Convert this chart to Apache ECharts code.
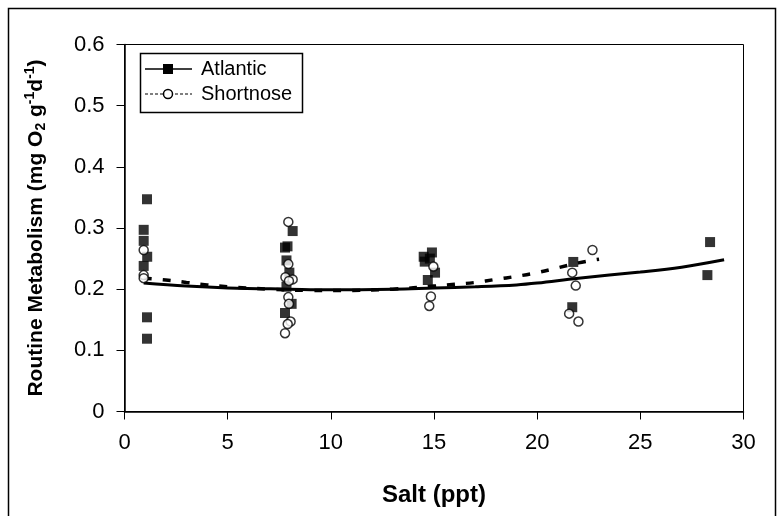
<!DOCTYPE html>
<html>
<head>
<meta charset="utf-8">
<script src="https://cdn.jsdelivr.net/npm/echarts@6/dist/echarts.min.js"></script>
<style>
  html, body { margin: 0; padding: 0; background: #fff; }
  #chart { width: 780px; height: 516px; }
</style>
</head>
<body>
<div id="chart"></div>
<script>
// Measured routine metabolism of individual fish at each salinity
const atlanticSalt = [1.09, 0.93, 0.93, 1.10, 0.93, 1.09, 1.09,
  8.15, 7.90, 7.78, 7.85, 7.99, 7.85, 8.10, 7.78,
  14.90, 14.50, 14.55, 14.80, 15.05, 14.70,
  21.75, 21.70, 28.38, 28.25];
const atlanticRate = [0.347, 0.297, 0.279, 0.253, 0.238, 0.154, 0.119,
  0.295, 0.270, 0.268, 0.247, 0.227, 0.204, 0.176, 0.161,
  0.260, 0.253, 0.245, 0.250, 0.227, 0.215,
  0.2445, 0.1705, 0.277, 0.223];

const shortnoseSalt = [0.93, 0.93, 0.93,
  7.94, 7.94, 7.80, 8.15, 7.97, 7.94, 7.97, 8.05, 7.91, 7.78,
  14.97, 14.85, 14.77,
  21.70, 21.87, 21.55, 22.00, 22.68];
const shortnoseRate = [0.264, 0.223, 0.218,
  0.310, 0.241, 0.2195, 0.216, 0.2135, 0.187, 0.176, 0.147, 0.143, 0.128,
  0.237, 0.188, 0.1726,
  0.227, 0.2058, 0.160, 0.147, 0.264];

// Fitted response curves
const atlanticFitSalt = [0.93, 3, 5, 8, 10, 13, 15, 17, 19, 20, 22, 25, 27, 29.06];
const atlanticFitRate = [0.210, 0.205, 0.202, 0.200, 0.199, 0.200, 0.202, 0.204, 0.207, 0.210, 0.218, 0.228, 0.236, 0.248];
const shortnoseFitSalt = [0.93, 2, 3, 4, 5, 7, 9, 11, 13, 15, 16, 17, 18, 19, 20, 21, 22, 23];
const shortnoseFitRate = [0.218, 0.215, 0.211, 0.207, 0.204, 0.200, 0.198, 0.198, 0.200, 0.205, 0.208, 0.211, 0.216, 0.221, 0.227, 0.235, 0.243, 0.249];

const xTicks = { min: 0, max: 30, interval: 5 };
const yTicks = { min: 0, max: 0.6, interval: 0.1 };

const pairs = (xs, ys) => xs.map((x, i) => [x, ys[i]]);
const FONT = '"Liberation Sans", Arial, sans-serif';

const chart = echarts.init(document.getElementById('chart'), null, { renderer: 'canvas' });

chart.setOption({
  backgroundColor: '#fff',
  animation: false,
  grid: {
    left: 124.5, right: 36.5, top: 44.5, bottom: 104.5,
    show: true, borderColor: '#000', borderWidth: 1, backgroundColor: 'transparent'
  },
  xAxis: {
    type: 'value',
    min: xTicks.min, max: xTicks.max, interval: xTicks.interval,
    name: 'Salt (ppt)',
    nameLocation: 'middle',
    nameGap: 72,
    nameTextStyle: { fontFamily: FONT, fontSize: 24, fontWeight: 'bold', color: '#000' },
    axisLine: { show: true, onZero: false, lineStyle: { color: '#000', width: 1.5 } },
    axisTick: { show: true, inside: false, length: 8, lineStyle: { color: '#000', width: 1 } },
    axisLabel: { fontFamily: FONT, fontSize: 22, color: '#000', margin: 20 },
    splitLine: { show: false }
  },
  yAxis: {
    type: 'value',
    min: yTicks.min, max: yTicks.max, interval: yTicks.interval,
    name: 'Routine Metabolism (mg O{sub|2} g{sup|-1}d{sup|-1})',
    nameLocation: 'middle',
    nameGap: 76,
    nameRotate: 90,
    nameTextStyle: {
      fontFamily: FONT, fontSize: 21, fontWeight: 'bold', color: '#000', lineHeight: 25,
      rich: {
        sub: { fontFamily: FONT, fontSize: 14, fontWeight: 'bold', color: '#000', verticalAlign: 'bottom', lineHeight: 16 },
        sup: { fontFamily: FONT, fontSize: 14, fontWeight: 'bold', color: '#000', verticalAlign: 'top', lineHeight: 16 }
      }
    },
    axisLine: { show: true, onZero: false, lineStyle: { color: '#000', width: 1.5 } },
    axisTick: { show: true, inside: false, length: 8, lineStyle: { color: '#000', width: 1 } },
    axisLabel: {
      fontFamily: FONT, fontSize: 22, color: '#000', margin: 20,
      formatter: v => (v === 0 ? '0' : v.toFixed(1))
    },
    splitLine: { show: false }
  },
  series: [
    {
      name: 'Atlantic fit', type: 'line', data: pairs(atlanticFitSalt, atlanticFitRate),
      smooth: 0.4, showSymbol: false, symbol: 'none', z: 2,
      lineStyle: { color: '#000', width: 3, type: 'solid' }
    },
    {
      name: 'Shortnose fit', type: 'line', data: pairs(shortnoseFitSalt, shortnoseFitRate),
      smooth: 0.4, showSymbol: false, symbol: 'none', z: 2,
      lineStyle: { color: '#000', width: 3.5, type: [8, 11] }
    },
    {
      name: 'Atlantic', type: 'scatter', data: pairs(atlanticSalt, atlanticRate),
      symbol: 'rect', symbolSize: 10, z: 3,
      itemStyle: { color: '#000' }
    },
    {
      name: 'Shortnose', type: 'scatter', data: pairs(shortnoseSalt, shortnoseRate),
      symbol: 'circle', symbolSize: 9, z: 4,
      itemStyle: { color: '#fff', borderColor: '#000', borderWidth: 1.5 }
    }
  ],
  graphic: [
    // outer frame
    { type: 'rect', silent: true, z: 0,
      shape: { x: 8.5, y: 8.5, width: 767, height: 520 },
      style: { fill: 'none', stroke: '#000', lineWidth: 1.5 } },
    // legend box
    { type: 'rect', z: 10,
      shape: { x: 140.5, y: 53.5, width: 162, height: 59 },
      style: { fill: '#fff', stroke: '#000', lineWidth: 1.5 } },
    { type: 'line', z: 11, shape: { x1: 145, y1: 69, x2: 192, y2: 69 },
      style: { stroke: '#000', lineWidth: 1.5 } },
    { type: 'rect', z: 12, shape: { x: 163, y: 64, width: 10, height: 10 },
      style: { fill: '#000' } },
    { type: 'text', z: 12, style: { x: 201, y: 69, text: 'Atlantic', fontFamily: FONT, fontSize: 20,
      fill: '#000', verticalAlign: 'middle' } },
    { type: 'line', z: 11, shape: { x1: 145, y1: 94, x2: 192, y2: 94 },
      style: { stroke: '#000', lineWidth: 1.2, lineDash: [3, 2] } },
    { type: 'circle', z: 12, shape: { cx: 168, cy: 94, r: 4.5 },
      style: { fill: '#fff', stroke: '#000', lineWidth: 1.5 } },
    { type: 'text', z: 12, style: { x: 201, y: 94, text: 'Shortnose', fontFamily: FONT, fontSize: 20,
      fill: '#000', verticalAlign: 'middle' } }
  ]
});
</script>
</body>
</html>
